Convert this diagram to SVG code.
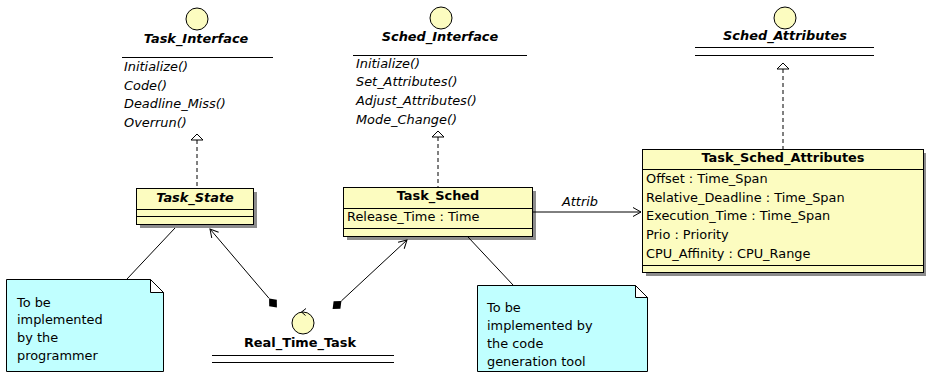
<svg xmlns="http://www.w3.org/2000/svg" width="926" height="376" viewBox="0 0 926 376">
<defs>
<style>
text{font-family:"DejaVu Sans","Liberation Sans",sans-serif;font-size:12.9px;fill:#000}
.b{font-weight:bold}
.i{font-style:italic}
.c{text-anchor:middle}
.cls{fill:#fcfcc0;stroke:#000;stroke-width:1}
.sh{fill:#8c8c8c}
.ln{stroke:#000;stroke-width:1;fill:none}
.dash{stroke:#000;stroke-width:1;stroke-dasharray:4,3;fill:none}
.ic{fill:#fcfcc0;stroke:#000;stroke-width:1}
.note{fill:#c0ffff;stroke:#000;stroke-width:1}
.gen{fill:#fff;stroke:#000;stroke-width:1}
</style>
<marker id="open" viewBox="-10 -6 12 12" refX="0" refY="0" markerWidth="12" markerHeight="12" markerUnits="userSpaceOnUse" orient="auto">
<path d="M-8,-4.5 L0,0 L-8,4.5" fill="none" stroke="#000" stroke-width="1"/>
</marker>
</defs>

<g id="Task_Interface">
<circle class="ic" cx="197" cy="19" r="11"/>
<text class="b i c" x="196" y="43">Task_Interface</text>
<line class="ln" x1="122" y1="57.5" x2="273" y2="57.5"/>
<text class="i" x="124" y="71">Initialize()</text>
<text class="i" x="124" y="90">Code()</text>
<text class="i" x="124" y="108">Deadline_Miss()</text>
<text class="i" x="124" y="127">Overrun()</text>
</g>

<g id="Sched_Interface">
<circle class="ic" cx="441" cy="18" r="11"/>
<text class="b i c" x="440" y="41">Sched_Interface</text>
<line class="ln" x1="353" y1="55.5" x2="527" y2="55.5"/>
<text class="i" x="356" y="68">Initialize()</text>
<text class="i" x="356" y="86">Set_Attributes()</text>
<text class="i" x="356" y="105">Adjust_Attributes()</text>
<text class="i" x="356" y="124">Mode_Change()</text>
</g>

<g id="Sched_Attributes">
<circle class="ic" cx="785" cy="18" r="11"/>
<text class="b i c" x="785" y="40">Sched_Attributes</text>
<line class="ln" x1="695" y1="47.5" x2="874" y2="47.5"/>
<line class="ln" x1="695" y1="55.5" x2="874" y2="55.5"/>
</g>

<g id="Task_State">
<rect class="sh" x="140" y="192" width="117" height="36"/>
<rect class="cls" x="136.5" y="188.5" width="117" height="36"/>
<text class="b i c" x="195" y="202">Task_State</text>
<line class="ln" x1="136.5" y1="209.5" x2="253.5" y2="209.5"/>
<line class="ln" x1="136.5" y1="216.5" x2="253.5" y2="216.5"/>
</g>

<g id="Task_Sched">
<rect class="sh" x="347" y="191" width="189" height="49"/>
<rect class="cls" x="343.5" y="187.5" width="189" height="49"/>
<text class="b c" x="438" y="200">Task_Sched</text>
<line class="ln" x1="343.5" y1="208.5" x2="532.5" y2="208.5"/>
<text x="347" y="221">Release_Time : Time</text>
<line class="ln" x1="343.5" y1="228.5" x2="532.5" y2="228.5"/>
</g>

<g id="Task_Sched_Attributes">
<rect class="sh" x="646" y="153" width="281" height="123"/>
<rect class="cls" x="642.5" y="149.5" width="281" height="123"/>
<text class="b c" x="783" y="162">Task_Sched_Attributes</text>
<line class="ln" x1="642.5" y1="169.5" x2="923.5" y2="169.5"/>
<text x="646" y="183">Offset : Time_Span</text>
<text x="646" y="202">Relative_Deadline : Time_Span</text>
<text x="646" y="220">Execution_Time : Time_Span</text>
<text x="646" y="239">Prio : Priority</text>
<text x="646" y="258">CPU_Affinity : CPU_Range</text>
<line class="ln" x1="642.5" y1="265.5" x2="923.5" y2="265.5"/>
</g>

<g id="Real_Time_Task">
<circle class="ic" cx="303" cy="323" r="11"/>
<path class="ln" d="M306,308.5 L301.5,312 L305.5,315.5"/>
<text class="b c" x="300" y="347">Real_Time_Task</text>
<line class="ln" x1="212" y1="355.5" x2="394" y2="355.5"/>
<line class="ln" x1="212" y1="362.5" x2="394" y2="362.5"/>
</g>

<g id="Note_Programmer">
<path class="note" d="M6.5,279.5 L150.5,279.5 L163.5,292.5 L163.5,371.5 L6.5,371.5 Z"/>
<path class="gen" d="M150.5,279.5 L150.5,292.5 L163.5,292.5 Z"/>
<text x="17" y="307">To be</text>
<text x="17" y="324">implemented</text>
<text x="17" y="342">by the</text>
<text x="17" y="360">programmer</text>
</g>

<g id="Note_CodeGen">
<path class="note" d="M477.5,285.5 L635.5,285.5 L647.5,297.5 L647.5,371.5 L477.5,371.5 Z"/>
<path class="gen" d="M635.5,285.5 L635.5,297.5 L647.5,297.5 Z"/>
<text x="487" y="312">To be</text>
<text x="487" y="330">implemented by</text>
<text x="487" y="348">the code</text>
<text x="487" y="366">generation tool</text>
</g>

<g id="connectors">
<line class="dash" x1="197" y1="140" x2="197" y2="188"/>
<polygon class="gen" points="197,134 191,140 203,140"/>
<line class="dash" x1="438" y1="137" x2="438" y2="187"/>
<polygon class="gen" points="438,131 432,137 444,137"/>
<line class="dash" x1="783" y1="69" x2="783" y2="149"/>
<polygon class="gen" points="783,63 777,69 789,69"/>
<line class="ln" x1="533" y1="212" x2="641" y2="212" marker-end="url(#open)"/>
<text class="i c" x="580" y="206">Attrib</text>
<line class="ln" x1="269.1" y1="298.4" x2="210" y2="229" marker-end="url(#open)"/>
<polygon fill="#000" points="276.9,307.6 276.8,299.8 269.1,298.4 269.2,306.2"/>
<line class="ln" x1="341.4" y1="300.9" x2="407" y2="240" marker-end="url(#open)"/>
<polygon fill="#000" points="332.6,309.1 340.4,308.7 341.4,300.9 333.6,301.3"/>
<line class="ln" x1="175" y1="228" x2="127" y2="279"/>
<line class="ln" x1="468" y1="237" x2="513" y2="285"/>
</g>
</svg>
